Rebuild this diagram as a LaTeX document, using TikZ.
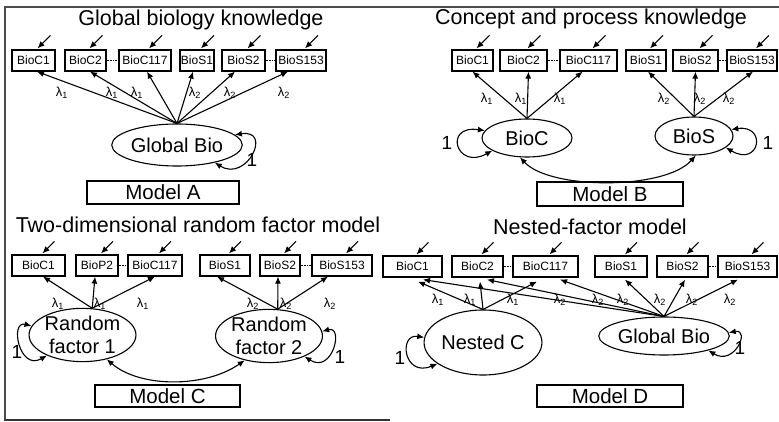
\documentclass[tikz,border=0pt]{standalone}
\usepackage{fontspec}
\setmainfont{Liberation Sans}
\usetikzlibrary{arrows.meta,positioning,shapes.geometric}

\tikzset{
  obs/.style={draw, line width=1.2pt, minimum height=21pt, inner sep=1pt,
    font=\fontsize{12}{13}\selectfont},
  lat/.style={draw, ellipse, line width=1.1pt, inner sep=0pt, align=center,
    font=\fontsize{20}{23}\selectfont},
  ttl/.style={inner sep=0pt, font=\fontsize{21.5}{24}\selectfont},
  mbox/.style={draw, line width=1.2pt, inner sep=0pt,
    font=\fontsize{20.5}{22}\selectfont},
  lam/.style={inner sep=0pt, font=\fontsize{13}{14}\selectfont},
  one/.style={inner sep=0pt, font=\fontsize{19}{21}\selectfont},
  load/.style={line width=1.1pt, -{Latex[length=7pt,width=6pt]}},
  cov/.style={line width=1.1pt, {Latex[length=7pt,width=6pt]}-{Latex[length=7pt,width=6pt]}},
  gap/.style={densely dotted, line width=0.6pt}
}

\begin{document}
\begin{tikzpicture}[x=1pt,y=1pt]
  \useasboundingbox (0,0) rectangle (779,-422);

  % Cornice
  \draw[line width=2pt, black!70] (5,-421) -- (5,-7) -- (779,-7);
  \draw[line width=1.5pt, black!80] (5,-420) -- (390,-420);

  % Modello A
  \node[ttl] (tA) at (201,-20) {Global biology knowledge};
  \foreach \nm/\lab/\xa/\xb in {aC1/BioC1/12/55, aC2/BioC2/65/106, aC117/BioC117/119/171,
      aS1/BioS1/180/214, aS2/BioS2/222/265, aS153/BioS153/276/326}
    \node[obs, minimum width={(\xb-\xa)*1pt}] (\nm) at ({(\xa+\xb)/2},-60.5) {\lab};
  \draw[gap] (aC2.east) -- (aC117.west);
  \draw[gap] (aS2.east) -- (aS153.west);
  \foreach \nm in {aC1,aC2,aC117,aS1,aS2,aS153}
    \draw[load] ([shift={(17pt,14pt)}]\nm.north) -- ([shift={(4pt,1pt)}]\nm.north);

  \node[lat, minimum width=99pt, minimum height=42pt] (gA) at (177,-145) {Global Bio};
  \foreach \nm/\dx in {aC1/3.5, aC2/4.5, aC117/2, aS1/-4, aS2/-8.5, aS153/-13}
    \draw[load] (gA.north) -- ([xshift=\dx pt]\nm.south);
  \foreach \x/\k [count=\i] in {62/1, 112/1, 137/1, 195/2, 230/2, 284/2}
    \node[lam] (lA\i) at (\x,-93) {λ\textsubscript{\k}};
  \draw[cov] (gA.10) .. controls +(38,6) and +(32,-20) .. (gA.-25);
  \node[one] (uA) at (252,-160) {1};
  \node[mbox, minimum width=152pt, minimum height=23pt] (mA) at (163,-192.5) {Model A};

  % Modello B
  \node[ttl] (tB) at (591,-19) {Concept and process knowledge};
  \foreach \nm/\lab/\xa/\xb in {bC1/BioC1/452/493, bC2/BioC2/500/547, bC117/BioC117/560/617,
      bS1/BioS1/626/666, bS2/BioS2/673/718, bS153/BioS153/727/777}
    \node[obs, minimum width={(\xb-\xa)*1pt}] (\nm) at ({(\xa+\xb)/2},-60.5) {\lab};
  \draw[gap] (bC2.east) -- (bC117.west);
  \draw[gap] (bS2.east) -- (bS153.west);
  \foreach \nm in {bC1,bC2,bC117,bS1,bS2,bS153}
    \draw[load] ([shift={(17pt,14pt)}]\nm.north) -- ([shift={(4pt,1pt)}]\nm.north);

  \node[lat, minimum width=90pt, minimum height=38pt] (lC) at (527,-138) {BioC};
  \node[lat, minimum width=78pt, minimum height=38pt] (lS) at (694,-136) {BioS};
  \foreach \nm/\dx in {bC1/0, bC2/5, bC117/-6}
    \draw[load] (lC.north) -- ([xshift=\dx pt]\nm.south);
  \foreach \nm/\dx in {bS1/2, bS2/0, bS153/1}
    \draw[load] (lS.north) -- ([xshift=\dx pt]\nm.south);
  \foreach \x/\k [count=\i] in {487/1, 521/1, 560/1, 664/2, 700/2, 729/2}
    \node[lam] (lB\i) at (\x,-99) {λ\textsubscript{\k}};
  \draw[cov] (lC.170) .. controls +(-42,6) and +(-36,-20) .. (lC.-160);
  \node[one] (uB1) at (447,-143) {1};
  \draw[cov] (lS.10) .. controls +(36,5) and +(34,-20) .. (lS.-20);
  \node[one] (uB2) at (768,-143) {1};
  \draw[cov] (lC.-110) .. controls (550,-190) and (665,-190) .. (lS.-85);
  \node[mbox, minimum width=146pt, minimum height=24pt] (mB) at (610,-194) {Model B};

  % Modello C
  \node[ttl] (tC) at (198,-225) {Two-dimensional random factor model};
  \foreach \nm/\lab/\xa/\xb in {cC1/BioC1/12/65, cP2/BioP2/76/118, cC117/BioC117/128/182,
      cS1/BioS1/200/250, cS2/BioS2/260/300, cS153/BioS153/312/372}
    \node[obs, minimum width={(\xb-\xa)*1pt}] (\nm) at ({(\xa+\xb)/2},-265.5) {\lab};
  \draw[gap] (cP2.east) -- (cC117.west);
  \draw[gap] (cS2.east) -- (cS153.west);
  \foreach \nm in {cC1,cP2,cC117,cS1,cS2,cS153}
    \draw[load] ([shift={(16pt,13pt)}]\nm.north) -- ([shift={(4pt,1pt)}]\nm.north);

  \node[lat, minimum width=99pt, minimum height=50pt] (rf1) at (82.5,-335) {Random\\factor 1};
  \node[lat, minimum width=92pt, minimum height=52pt] (rf2) at (269,-336) {Random\\factor 2};
  \foreach \nm/\dx in {cC1/4.5, cP2/-2, cC117/0}
    \draw[load] (rf1.70) -- ([xshift=\dx pt]\nm.south);
  \foreach \nm/\dx in {cS1/-8, cS2/-2, cS153/-14}
    \draw[load] (rf2.72) -- ([xshift=\dx pt]\nm.south);
  \foreach \x/\k [count=\i] in {58/1, 100/1, 143/1, 253/2, 286/2, 330/2}
    \node[lam] (lC\i) at (\x,-304) {λ\textsubscript{\k}};
  \draw[cov] (rf1.170) .. controls +(-22,6) and +(-28,-16) .. (rf1.-150);
  \node[one] (uC1) at (17,-352) {1};
  \draw[cov] (rf2.5) .. controls +(22,6) and +(28,-18) .. (rf2.-30);
  \node[one] (uC2) at (340,-357) {1};
  \draw[cov] (rf1.-45) .. controls (140,-388) and (205,-388) .. (rf2.-135);
  \node[mbox, minimum width=145pt, minimum height=22pt] (mC) at (167.5,-396) {Model C};

  % Modello D
  \node[ttl] (tD) at (590,-227) {Nested-factor model};
  \foreach \nm/\lab/\xa/\xb in {dC1/BioC1/383/442, dC2/BioC2/452/503, dC117/BioC117/513/578,
      dS1/BioS1/595/647, dS2/BioS2/657/708, dS153/BioS153/718/777}
    \node[obs, minimum width={(\xb-\xa)*1pt}] (\nm) at ({(\xa+\xb)/2},-266.5) {\lab};
  \draw[gap] (dC2.east) -- (dC117.west);
  \draw[gap] (dS2.east) -- (dS153.west);
  \foreach \nm in {dC1,dC2,dC117,dS1,dS2,dS153}
    \draw[load] ([shift={(16pt,13pt)}]\nm.north) -- ([shift={(4pt,1pt)}]\nm.north);

  \node[lat, minimum width=108pt, minimum height=65pt] (nC) at (483,-342.5) {Nested C};
  \node[lat, minimum width=108pt, minimum height=38pt] (gD) at (664,-336) {Global Bio};
  \foreach \nm/\dx in {dC1/5.5, dC2/2.5, dC117/-8.5}
    \draw[load] (nC.north) -- ([shift={(\dx pt,-4pt)}]\nm.south);
  \foreach \nm/\dx in {dC1/10.5, dC2/9.5, dC117/14.5, dS1/4, dS2/2.5, dS153/-9.5}
    \draw[load] (gD.north) -- ([shift={(\dx pt,-2pt)}]\nm.south);
  \foreach \x/\k [count=\i] in {438/1, 470/1, 513/1, 560/2, 598/2, 623/2, 660/2, 692/2, 730/2}
    \node[lam] (lD\i) at (\x,-300) {λ\textsubscript{\k}};
  \draw[cov] (nC.175) .. controls +(-26,4) and +(-34,-14) .. (nC.-155);
  \node[one] (uD1) at (400,-358) {1};
  \draw[cov] (gD.3) .. controls +(22,4) and +(26,-16) .. (gD.-18);
  \node[one] (uD2) at (740,-348) {1};
  \node[mbox, minimum width=146pt, minimum height=22pt] (mD) at (610,-396) {Model D};
\end{tikzpicture}
\end{document}
